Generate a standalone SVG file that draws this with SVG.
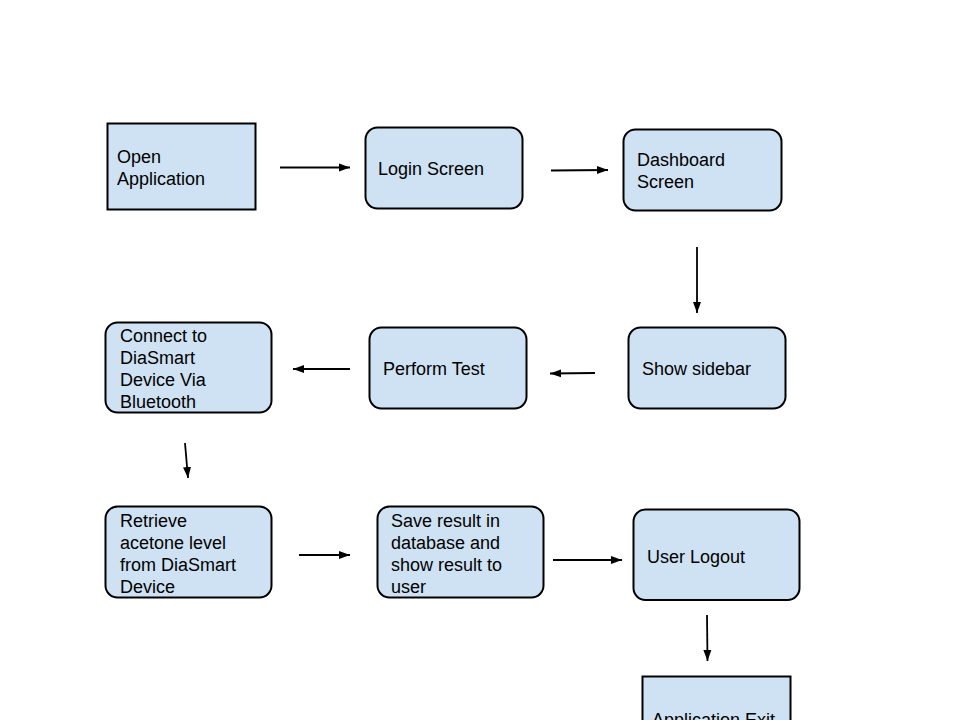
<svg xmlns="http://www.w3.org/2000/svg" width="960" height="720" viewBox="0 0 960 720">
<style>
.box{fill:#cfe2f3;stroke:#000;stroke-width:2}
.t{font-family:"Liberation Sans",Arial,sans-serif;font-size:18px;fill:#000}
.c{stroke:#000;stroke-width:1.8;fill:none;marker-end:url(#ah)}
</style>
<defs>
<marker id="ah" markerUnits="userSpaceOnUse" markerWidth="12" markerHeight="10" refX="11" refY="5" orient="auto">
<path d="M0,1 L11,5 L0,9 Z" fill="#000"/>
</marker>
</defs>
<rect width="960" height="720" fill="#fff"/>
<g id="connectors">
<line class="c" x1="280" y1="167.5" x2="350" y2="167.5"/>
<line class="c" x1="551" y1="170.5" x2="608" y2="170"/>
<line class="c" x1="697" y1="247" x2="697" y2="313"/>
<line class="c" x1="595" y1="373" x2="550" y2="373.5"/>
<line class="c" x1="350" y1="369" x2="293" y2="369"/>
<line class="c" x1="185" y1="443" x2="188" y2="478"/>
<line class="c" x1="299" y1="555" x2="350" y2="555"/>
<line class="c" x1="553" y1="560" x2="622" y2="560"/>
<line class="c" x1="707" y1="615" x2="707.5" y2="661"/>
</g>
<g id="open-application">
<rect class="box" x="107.5" y="123.5" width="148" height="86"/>
<text class="t" x="117" y="163">Open</text>
<text class="t" x="117" y="185">Application</text>
</g>
<g id="login-screen">
<rect class="box" x="365.5" y="127.5" width="157" height="81" rx="12"/>
<text class="t" x="378" y="175">Login Screen</text>
</g>
<g id="dashboard-screen">
<rect class="box" x="623.5" y="129.5" width="158" height="81" rx="12"/>
<text class="t" x="637" y="166">Dashboard</text>
<text class="t" x="637" y="188">Screen</text>
</g>
<g id="show-sidebar">
<rect class="box" x="628.5" y="327.5" width="157" height="81" rx="12"/>
<text class="t" x="642" y="374.5">Show sidebar</text>
</g>
<g id="perform-test">
<rect class="box" x="369.5" y="327.5" width="157" height="81" rx="12"/>
<text class="t" x="383" y="374.5">Perform Test</text>
</g>
<g id="connect-device">
<rect class="box" x="105.5" y="322.5" width="166" height="90" rx="12"/>
<text class="t" x="120" y="341.5">Connect to</text>
<text class="t" x="120" y="363.5">DiaSmart</text>
<text class="t" x="120" y="385.5">Device Via</text>
<text class="t" x="120" y="407.5">Bluetooth</text>
</g>
<g id="retrieve-acetone">
<rect class="box" x="105.5" y="506.5" width="166" height="91" rx="12"/>
<text class="t" x="120" y="526.5">Retrieve</text>
<text class="t" x="120" y="548.5">acetone level</text>
<text class="t" x="120" y="570.5">from DiaSmart</text>
<text class="t" x="120" y="592.5">Device</text>
</g>
<g id="save-result">
<rect class="box" x="377.5" y="506.5" width="166" height="91" rx="12"/>
<text class="t" x="391" y="526.5">Save result in</text>
<text class="t" x="391" y="548.5">database and</text>
<text class="t" x="391" y="570.5">show result to</text>
<text class="t" x="391" y="592.5">user</text>
</g>
<g id="user-logout">
<rect class="box" x="633.5" y="509.5" width="166" height="90.5" rx="12"/>
<text class="t" x="647" y="562.5">User Logout</text>
</g>
<g id="application-exit">
<rect class="box" x="642.5" y="676.5" width="148" height="86"/>
<text class="t" x="652" y="726">Application Exit</text>
</g>
</svg>
